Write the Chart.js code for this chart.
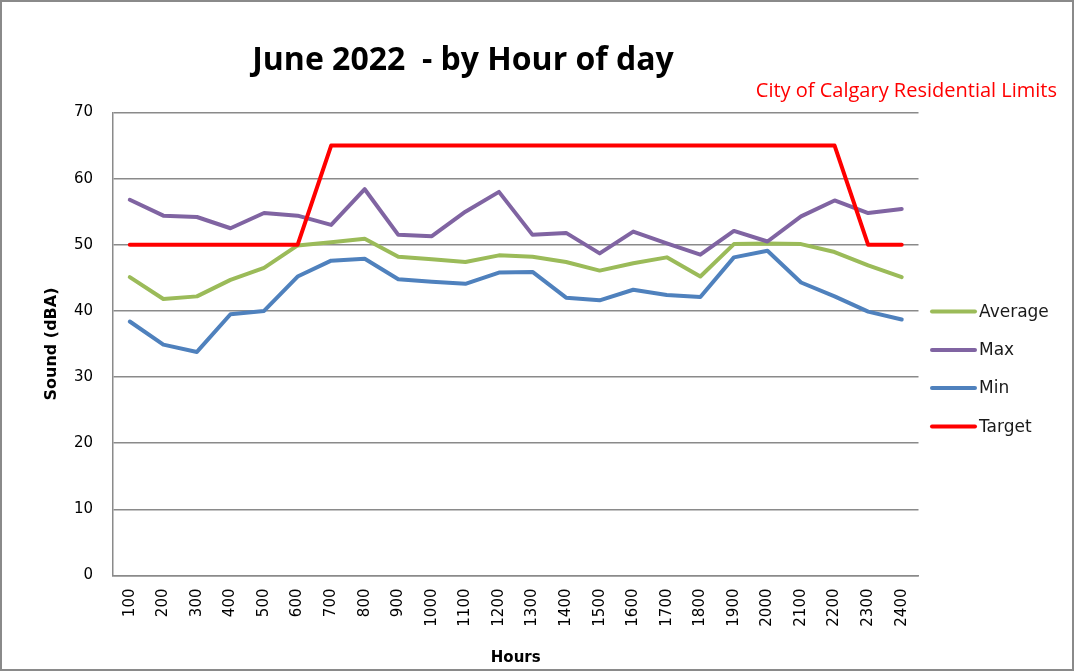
<!DOCTYPE html>
<html>
<head>
<meta charset="utf-8">
<script src="https://cdn.jsdelivr.net/npm/chart.js@4"></script>
<style>
  html, body { margin: 0; padding: 0; background: #fff; }
  #wrap { position: relative; width: 1074px; height: 671px; }
</style>
</head>
<body>
<div id="wrap"><canvas id="soundChart" width="1074" height="671"></canvas></div>
<script>
// Hour labels
const hours = ['100', '200', '300', '400', '500', '600', '700', '800', '900', '1000', '1100', '1200',
               '1300', '1400', '1500', '1600', '1700', '1800', '1900', '2000', '2100', '2200', '2300', '2400'];

// Values (dBA)
const averageVals = [45.1, 41.8, 42.2, 44.7, 46.5, 49.9, 50.4, 50.9, 48.2, 47.8, 47.4, 48.4,
                     48.2, 47.4, 46.1, 47.2, 48.1, 45.2, 50.1, 50.2, 50.1, 48.9, 46.9, 45.1];
const maxVals     = [56.8, 54.4, 54.2, 52.5, 54.8, 54.4, 53.0, 58.4, 51.5, 51.3, 55.0, 58.0,
                     51.5, 51.8, 48.7, 52.0, 50.2, 48.5, 52.1, 50.5, 54.3, 56.7, 54.8, 55.4];
const minVals     = [38.4, 34.9, 33.8, 39.5, 40.0, 45.2, 47.6, 47.9, 44.8, 44.4, 44.1, 45.8,
                     45.9, 42.0, 41.6, 43.2, 42.4, 42.1, 48.1, 49.1, 44.3, 42.2, 39.9, 38.7];
const targetVals  = [50, 50, 50, 50, 50, 50, 65, 65, 65, 65, 65, 65,
                     65, 65, 65, 65, 65, 65, 65, 65, 65, 65, 50, 50];

const TITLE_FONT = '"Open Sans", Lato, sans-serif';
const AXIS_FONT = '"DejaVu Sans", Verdana, sans-serif';

// background, frame, titles and the legend on the right
const decorations = {
    id: 'decorations',
    beforeDraw(chart) {
        const ctx = chart.ctx;
        ctx.save();
        ctx.fillStyle = '#ffffff';
        ctx.fillRect(0, 0, chart.width, chart.height);
        ctx.restore();
    },
    afterDraw(chart) {
        const ctx = chart.ctx;
        ctx.save();
        ctx.strokeStyle = '#8a8a8a';
        ctx.lineWidth = 2;
        ctx.strokeRect(1, 1, chart.width - 2, chart.height - 2);

        ctx.fillStyle = '#000';
        ctx.font = 'bold 32px ' + TITLE_FONT;
        ctx.textAlign = 'center';
        ctx.textBaseline = 'middle';
        ctx.fillText('June 2022  - by Hour of day', 463, 61);

        ctx.fillStyle = '#ff0000';
        ctx.font = '20px ' + TITLE_FONT;
        ctx.textAlign = 'right';
        ctx.fillText('City of Calgary Residential Limits', 1057, 91);

        // legend
        const legendY = [311.5, 350, 388, 426.5];
        ctx.font = '17px ' + AXIS_FONT;
        ctx.textAlign = 'left';
        chart.data.datasets.forEach((ds, i) => {
            ctx.strokeStyle = ds.borderColor;
            ctx.lineWidth = 4;
            ctx.lineCap = 'round';
            ctx.beginPath();
            ctx.moveTo(932, legendY[i]);
            ctx.lineTo(975, legendY[i]);
            ctx.stroke();
            ctx.fillStyle = '#1a1a1a';
            ctx.fillText(ds.label, 979, legendY[i] + 1);
        });
        ctx.restore();
    }
};

new Chart(document.getElementById('soundChart'), {
    type: 'line',
    data: {
        labels: hours,
        datasets: [
            { label: 'Average', data: averageVals, borderColor: '#9bbb59', order: 3 },
            { label: 'Max',     data: maxVals,     borderColor: '#8064a2', order: 2 },
            { label: 'Min',     data: minVals,     borderColor: '#4f81bd', order: 1 },
            { label: 'Target',  data: targetVals,  borderColor: '#ff0000', order: 0 }
        ].map(ds => Object.assign(ds, {
            borderWidth: 4,
            pointRadius: 0,
            tension: 0,
            fill: false,
            borderJoinStyle: 'round',
            borderCapStyle: 'round'
        }))
    },
    options: {
        responsive: false,
        animation: false,
        layout: { padding: { top: 112.5, right: 155.5, left: 0, bottom: 0 } },
        plugins: {
            legend: { display: false },
            title: { display: false },
            tooltip: { enabled: false }
        },
        scales: {
            x: {
                offset: true,
                afterFit: s => { s.height = 95.5; },
                grid: { display: false, drawTicks: false },
                border: { color: '#8a8a8a', width: 1.5 },
                ticks: {
                    color: '#000',
                    font: { family: AXIS_FONT, size: 15 },
                    minRotation: 90,
                    maxRotation: 90,
                    autoSkip: false,
                    padding: 13
                },
                title: {
                    display: true,
                    text: 'Hours',
                    color: '#000',
                    font: { family: AXIS_FONT, size: 15, weight: 'bold' },
                    padding: { top: 6 }
                }
            },
            y: {
                min: 0,
                max: 70,
                afterFit: s => { s.width = 113; },
                grid: { color: '#8a8a8a', lineWidth: 1.5, drawTicks: false },
                border: { color: '#8a8a8a', width: 1.5 },
                ticks: {
                    stepSize: 10,
                    color: '#000',
                    font: { family: AXIS_FONT, size: 15 },
                    padding: 20
                },
                title: {
                    display: true,
                    text: 'Sound (dBA)',
                    color: '#000',
                    font: { family: AXIS_FONT, size: 16, weight: 'bold' },
                    padding: { top: 42 }
                }
            }
        }
    },
    plugins: [decorations]
});
</script>
</body>
</html>
